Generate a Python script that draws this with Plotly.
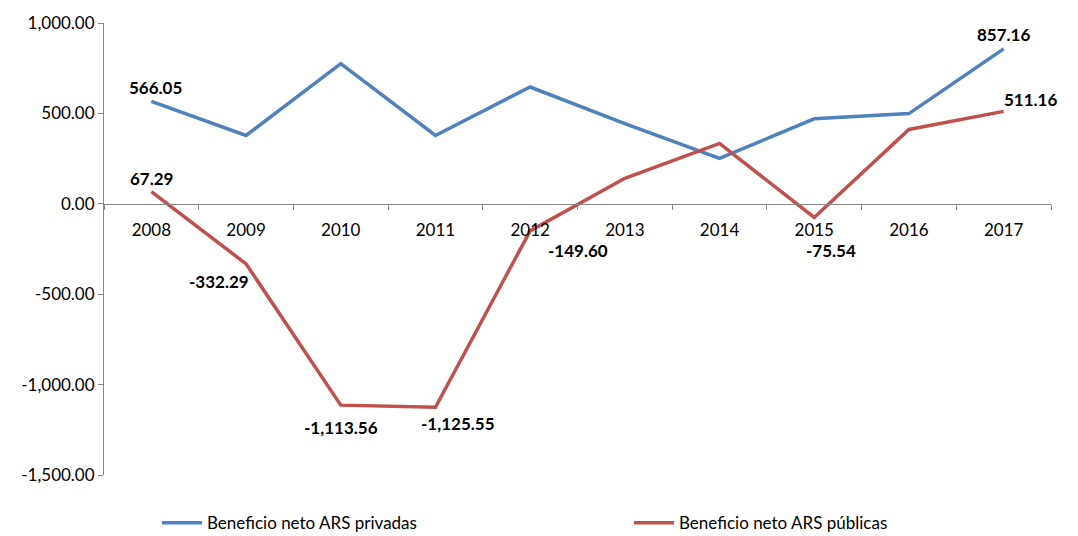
import plotly.graph_objects as go

years = ["2008", "2009", "2010", "2011", "2012", "2013", "2014", "2015", "2016", "2017"]
privadas = [566.05, 378, 775, 378, 646, 444, 251, 470, 499, 857.16]
publicas = [67.29, -332.29, -1113.56, -1125.55, -149.60, 141, 334, -75.54, 411, 511.16]
y_ticks = [-1500, -1000, -500, 0, 500, 1000]
name_priv = "Beneficio neto ARS privadas"
name_pub = "Beneficio neto ARS públicas"

BLUE = "#4F81BD"
RED = "#C0504D"
FONT = "Lato"

fig = go.Figure()
fig.add_trace(go.Scatter(x=years, y=privadas, mode="lines", name=name_priv,
                         line=dict(color=BLUE, width=3.5), legend="legend"))
fig.add_trace(go.Scatter(x=years, y=publicas, mode="lines", name=name_pub,
                         line=dict(color=RED, width=3.5), legend="legend2"))

# labels: (series, index, xshift, yshift)
label_spec = [
    (privadas, 0, 4, 14),
    (privadas, 9, 0, 14),
    (publicas, 0, 0, 13),
    (publicas, 1, -27, -18),
    (publicas, 2, 0, -22),
    (publicas, 3, 23, -16),
    (publicas, 4, 48, -20),
    (publicas, 7, 17, -33),
    (publicas, 9, 27, 12),
]
for series, i, dx, dy in label_spec:
    v = series[i]
    fig.add_annotation(x=i, xref="x", y=v, text=f"<b>{v:,.2f}</b>", showarrow=False,
                       xshift=dx, yshift=dy, font=dict(family=FONT, size=17, color="black"))

leg_common = dict(orientation="h", xref="container", yref="container",
                  xanchor="left", yanchor="middle", y=0.024,
                  font=dict(size=17), itemwidth=40, bgcolor="rgba(0,0,0,0)")
fig.update_layout(
    width=1078, height=536,
    margin=dict(l=104, r=27, t=23, b=61, autoexpand=False),
    paper_bgcolor="white", plot_bgcolor="white",
    font=dict(family=FONT, size=17, color="black"),
    showlegend=True,
    legend=dict(x=157 / 1078, **leg_common),
    legend2=dict(x=629 / 1078, **leg_common),
)
fig.update_xaxes(
    type="category", anchor="free", position=0.6, range=[-0.5, 9.5],
    showline=True, linecolor="#868686", linewidth=1,
    ticks="outside", ticklen=5, tickcolor="#868686", tickson="boundaries",
    showgrid=False, ticklabelstandoff=11, tickfont=dict(size=17), tickangle=0,
)
fig.update_yaxes(
    range=[-1500, 1000], tickvals=y_ticks,
    ticktext=[f"{t:,.2f}" for t in y_ticks],
    showline=True, linecolor="#868686", linewidth=1,
    ticks="outside", ticklen=5, tickcolor="#868686",
    showgrid=False, zeroline=False, tickfont=dict(size=17),
)

fig.write_html("out.html")
